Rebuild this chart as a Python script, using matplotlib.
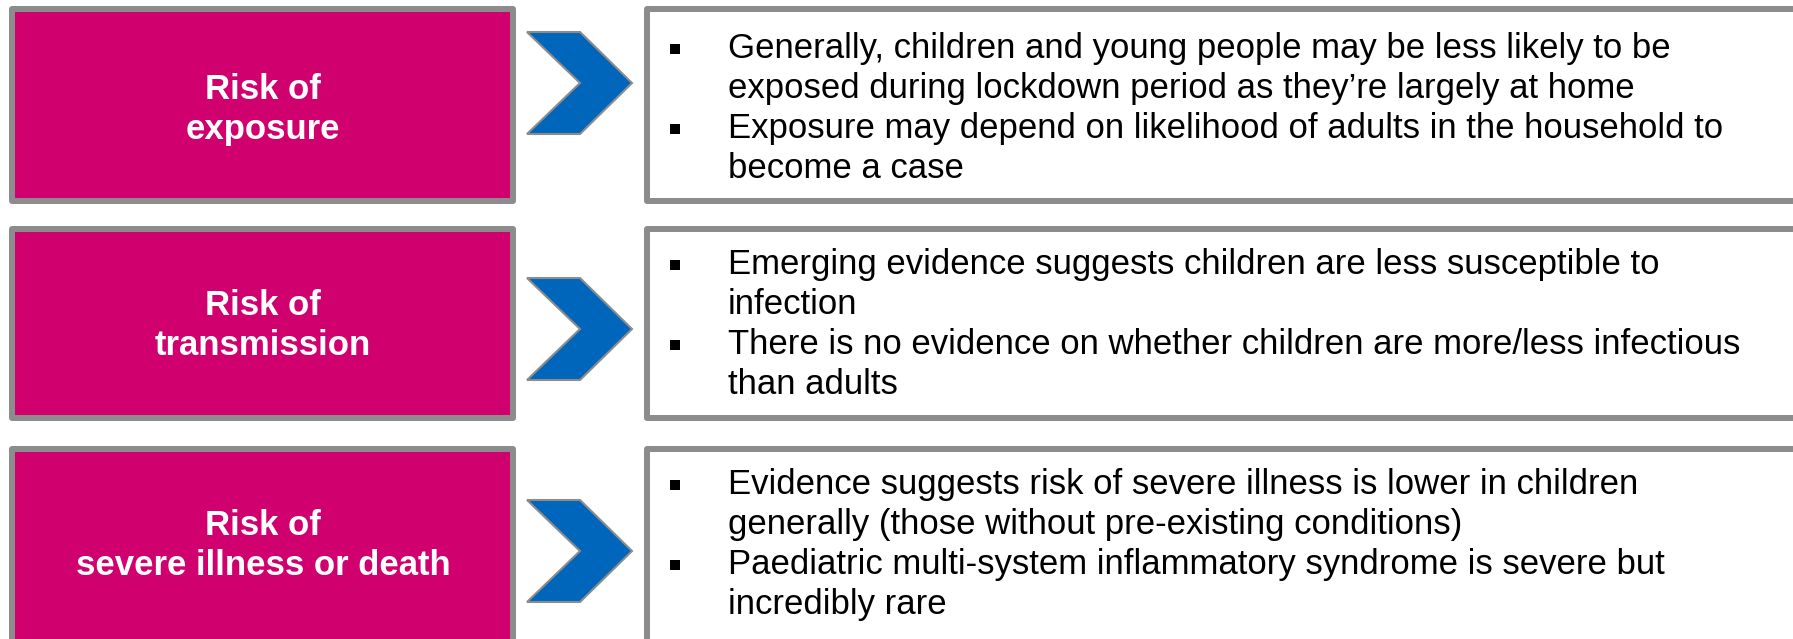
import matplotlib
import matplotlib.pyplot as plt
from matplotlib.patches import Rectangle, Polygon
matplotlib.use('Agg')

plt.rcParams['font.family'] = ['Liberation Sans', 'DejaVu Sans']

labels = [["Risk of", "exposure"],
          ["Risk of", "transmission"],
          ["Risk of", "severe illness or death"]]

bullets = [
    [["Generally, children and young people may be less likely to be",
      "exposed during lockdown period as they\u2019re largely at home"],
     ["Exposure may depend on likelihood of adults in the household to",
      "become a case"]],
    [["Emerging evidence suggests children are less susceptible to",
      "infection"],
     ["There is no evidence on whether children are more/less infectious",
      "than adults"]],
    [["Evidence suggests risk of severe illness is lower in children",
      "generally (those without pre-existing conditions)"],
     ["Paediatric multi-system inflammatory syndrome is severe but",
      "incredibly rare"]],
]

# layout in pixels (figure is 1793 x 639 at dpi 100)
row_top = [6, 226, 446]
row_bot = [204, 421, 645]
row_mid = [108, 324, 544]
chev_top = [32, 278, 500]

magenta = '#D0006F'
grey = '#8C8C8C'
blue = '#0066BB'
lw = 6 * 72 / 100

fig = plt.figure(figsize=(17.93, 6.39), dpi=100)
ax = fig.add_axes([0, 0, 1, 1])
ax.set_xlim(0, 1793)
ax.set_ylim(639, 0)
ax.axis('off')

for i in range(3):
    t, b, c = row_top[i], row_bot[i], row_mid[i]
    # magenta label box
    ax.add_patch(Rectangle((12, t + 3), 501, b - t - 6, facecolor=magenta,
                           edgecolor=grey, linewidth=lw, joinstyle='round'))
    ax.text(263, c - 9, labels[i][0], color='white', fontsize=25,
            fontweight='bold', ha='center', va='baseline')
    ax.text(263, c + 31, labels[i][1], color='white', fontsize=25,
            fontweight='bold', ha='center', va='baseline')

    # chevron
    y0 = chev_top[i]
    h = 102
    pts = [(527, y0), (580, y0), (632, y0 + h / 2), (580, y0 + h),
           (527, y0 + h), (580, y0 + h / 2)]
    ax.add_patch(Polygon(pts, closed=True, facecolor=blue, edgecolor=grey,
                         linewidth=1.5, joinstyle='miter'))

    # text box
    ax.add_patch(Rectangle((647, t + 3), 1170, b - t - 6, facecolor='white',
                           edgecolor=grey, linewidth=lw, joinstyle='round'))
    y = c - 50
    for item in bullets[i]:
        ax.add_patch(Rectangle((670, y - 14), 9.5, 9.5, facecolor='black',
                               edgecolor='none'))
        for line in item:
            ax.text(728, y, line, color='black', fontsize=25,
                    ha='left', va='baseline')
            y += 40

fig.savefig('out.png', dpi=100)
